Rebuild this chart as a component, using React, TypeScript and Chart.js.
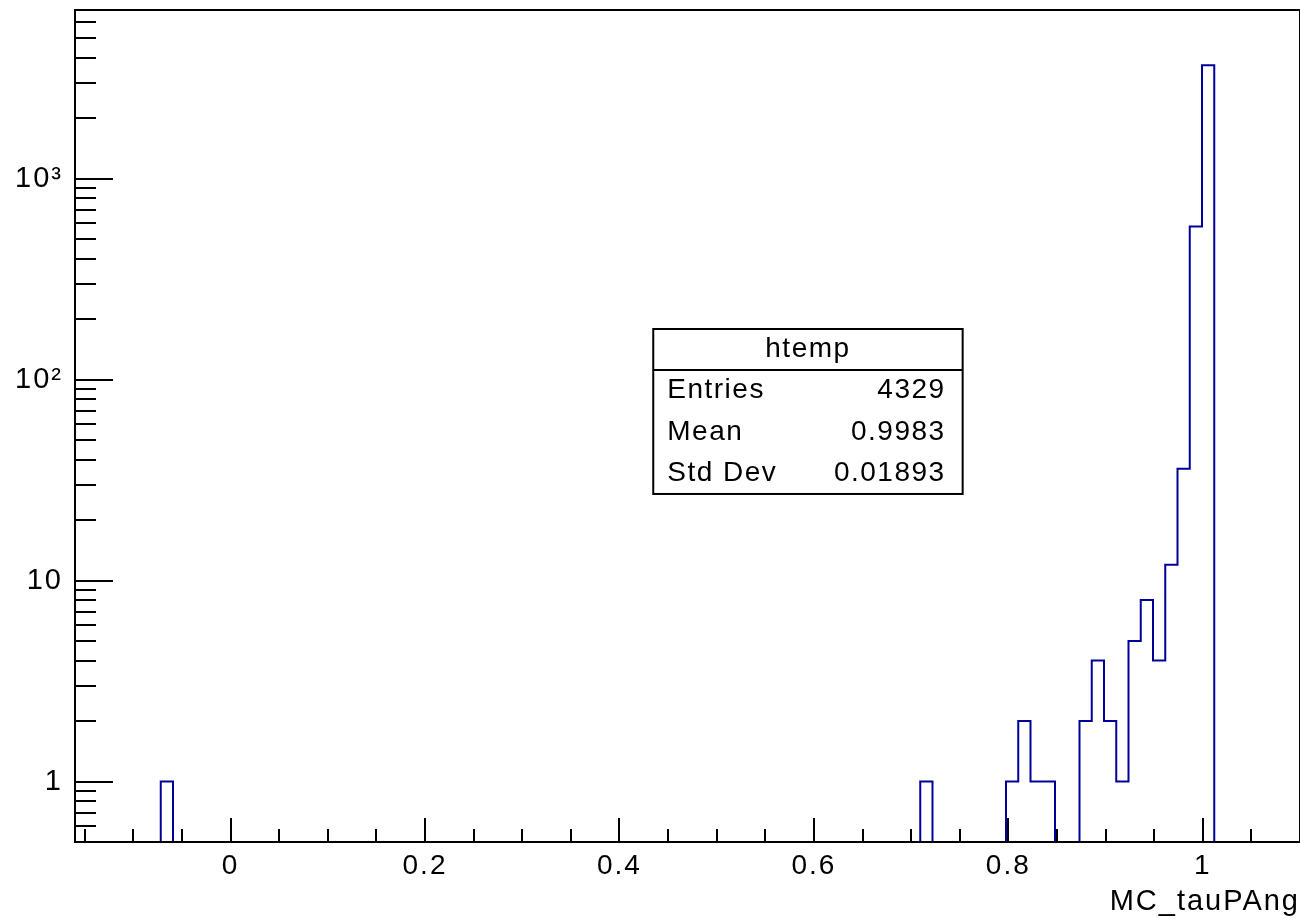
import React, { useEffect, useRef } from 'react';
import { Chart, registerables } from 'chart.js';

Chart.register(...registerables);

// ---- histogram definition (ROOT "htemp") ----
const X_MIN = -0.16;
const X_MAX = 1.1;
const N_BINS = 100;
const Y_MIN = 0.5;
const Y_MAX = 6920;

// non-empty bins (0-based bin index) and their contents
const filledBins = [7, 69, 76, 77, 78, 79, 82, 83, 84, 85, 86, 87, 88, 89, 90, 91, 92];
const binCounts = [1, 1, 1, 2, 1, 1, 2, 4, 2, 1, 5, 8, 4, 12, 36, 578, 3670];

// axis labels
const xTickValues = [0, 0.2, 0.4, 0.6, 0.8, 1];
const xTickLabels = ['0', '0.2', '0.4', '0.6', '0.8', '1'];
const yTickValues = [1, 10, 100, 1000];
const yTickLabels = ['1', '10', '10²', '10³'];
const xTitle = 'MC_tauPAng';

// stats box
const statsTitle = 'htemp';
const statsNames = ['Entries', 'Mean', 'Std Dev'];
const statsValues = ['4329', '0.9983', '0.01893'];

const FONT = '"Liberation Sans", Arial, Helvetica, sans-serif';
const LINE_COLOR = '#000099';
const X_MINOR_STEP = 0.05;
const X_MAJOR_STEP = 0.2;

function buildStepPoints() {
  const width = (X_MAX - X_MIN) / N_BINS;
  const counts: number[] = new Array(N_BINS).fill(0);
  filledBins.forEach((b, i) => {
    counts[b] = binCounts[i];
  });
  const FLOOR = 1e-3; // empty bins sit below the visible log range
  const pts: { x: number; y: number }[] = [{ x: X_MIN, y: FLOOR }];
  for (let k = 0; k < N_BINS; k++) {
    pts.push({ x: X_MIN + k * width, y: counts[k] > 0 ? counts[k] : FLOOR });
  }
  pts.push({ x: X_MAX, y: FLOOR });
  return pts;
}

const rootDecor = {
  id: 'rootDecor',
  beforeDraw(chart: any) {
    chart.ctx.letterSpacing = '2px';
  },
  afterDraw(chart: any) {
    const { ctx, chartArea: a, scales } = chart;
    const xs = scales.x;
    const ys = scales.y;
    ctx.save();
    ctx.strokeStyle = '#000';
    ctx.lineWidth = 2;
    // x tick marks (inward)
    const i0 = Math.ceil(X_MIN / X_MINOR_STEP - 1e-9);
    for (let i = i0; i * X_MINOR_STEP <= X_MAX + 1e-9; i++) {
      const v = i * X_MINOR_STEP;
      const px = Math.round(xs.getPixelForValue(v));
      if (px <= a.left + 2 || px >= a.right - 2) continue;
      const r = v / X_MAJOR_STEP;
      const major = Math.abs(r - Math.round(r)) < 1e-6;
      const len = major ? 24 : 13;
      ctx.beginPath();
      ctx.moveTo(px, a.bottom);
      ctx.lineTo(px, a.bottom - len);
      ctx.stroke();
    }
    // y tick marks (log)
    for (let e = -1; e <= 4; e++) {
      for (let m = 1; m <= 9; m++) {
        const v = m * Math.pow(10, e);
        if (v <= Y_MIN || v >= Y_MAX) continue;
        const py = Math.round(ys.getPixelForValue(v));
        const len = m === 1 ? 38 : 21;
        ctx.beginPath();
        ctx.moveTo(a.left, py);
        ctx.lineTo(a.left + len, py);
        ctx.stroke();
      }
    }
    // frame
    ctx.strokeRect(a.left, a.top, a.right - a.left, a.bottom - a.top);

    // stats box
    const W = chart.width;
    const H = chart.height;
    const bx = W * 0.5025;
    const by = H * 0.358;
    const bw = W * 0.238;
    const bh = H * 0.1795;
    ctx.fillStyle = '#fff';
    ctx.fillRect(bx, by, bw, bh);
    ctx.strokeRect(bx, by, bw, bh);
    const sep = by + bh * 0.248;
    ctx.beginPath();
    ctx.moveTo(bx, sep);
    ctx.lineTo(bx + bw, sep);
    ctx.stroke();
    ctx.fillStyle = '#000';
    ctx.font = `28px ${FONT}`;
    ctx.letterSpacing = '1.5px';
    ctx.textBaseline = 'middle';
    ctx.textAlign = 'center';
    ctx.fillText(statsTitle, bx + bw / 2, by + bh * 0.12);
    const rowH = (bh - (sep - by)) / statsNames.length;
    statsNames.forEach((n, i) => {
      const ry = sep + rowH * (i + 0.5);
      ctx.textAlign = 'left';
      ctx.fillText(n, bx + 14, ry);
      ctx.textAlign = 'right';
      ctx.fillText(statsValues[i], bx + bw - 17, ry);
    });
    ctx.restore();
  },
};

export default function App() {
  const canvasRef = useRef<HTMLCanvasElement | null>(null);

  useEffect(() => {
    const canvas = canvasRef.current;
    if (!canvas) return;
    const chart = new Chart(canvas, {
      type: 'line',
      data: {
        datasets: [
          {
            label: 'htemp',
            data: buildStepPoints(),
            stepped: 'before',
            borderColor: LINE_COLOR,
            borderWidth: 2,
            pointRadius: 0,
            fill: false,
            borderJoinStyle: 'miter',
          },
        ],
      },
      options: {
        animation: false,
        responsive: false,
        maintainAspectRatio: false,
        layout: { padding: { top: 10, right: 0, left: 0, bottom: 0 } },
        plugins: { legend: { display: false }, tooltip: { enabled: false } },
        scales: {
          x: {
            type: 'linear',
            min: X_MIN,
            max: X_MAX,
            grid: { display: false, drawTicks: false },
            border: { display: false },
            ticks: {
              autoSkip: false,
              maxRotation: 0,
              padding: 7,
              color: '#000',
              font: { family: FONT, size: 28 },
              callback: (_v: any, i: number) => xTickLabels[i],
            },
            afterBuildTicks: (s: any) => {
              s.ticks = xTickValues.map((v) => ({ value: v }));
            },
            afterFit: (s: any) => {
              s.height = 77;
              s.paddingLeft = 0;
              s.paddingRight = 0;
            },
            title: {
              display: true,
              text: xTitle,
              align: 'end',
              color: '#000',
              font: { family: FONT, size: 29 },
              padding: { top: 2, bottom: 0 },
            },
          },
          y: {
            type: 'logarithmic',
            min: Y_MIN,
            max: Y_MAX,
            grid: { display: false, drawTicks: false },
            border: { display: false },
            ticks: {
              autoSkip: false,
              padding: 12,
              color: '#000',
              font: { family: FONT, size: 29 },
              callback: (_v: any, i: number) => yTickLabels[i],
            },
            afterBuildTicks: (s: any) => {
              s.ticks = yTickValues.map((v) => ({ value: v }));
            },
            afterFit: (s: any) => {
              s.width = 75;
              s.paddingTop = 0;
              s.paddingBottom = 0;
            },
          },
        },
      } as any,
      plugins: [rootDecor],
    });
    return () => chart.destroy();
  }, []);

  return (
    <div style={{ position: 'absolute', left: 0, top: 0, width: 1300, height: 919, background: '#fff' }}>
      <canvas ref={canvasRef} width={1300} height={919} style={{ display: 'block' }} />
    </div>
  );
}
